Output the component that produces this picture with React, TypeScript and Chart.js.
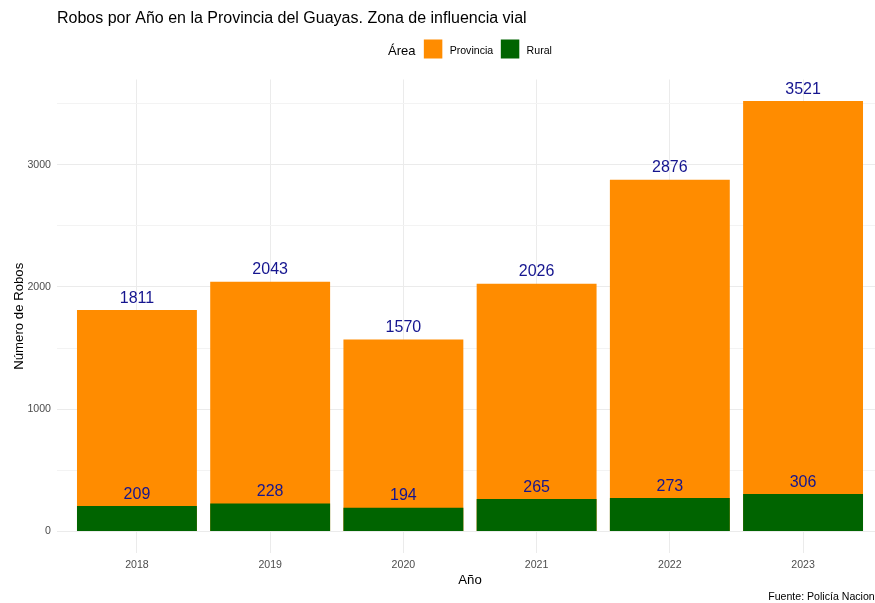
import React, { useEffect, useRef } from 'react';
import { Chart, registerables } from 'chart.js';

Chart.register(...registerables);

const years = ['2018', '2019', '2020', '2021', '2022', '2023'];
const provincia = [1811, 2043, 1570, 2026, 2876, 3521];
const rural = [209, 228, 194, 265, 273, 306];
const yTickValues = [0, 500, 1000, 1500, 2000, 2500, 3000, 3500];
const yLabelled = [0, 1000, 2000, 3000];
const seriesNames = ['Provincia', 'Rural'];
const seriesColors = ['#FF8C00', '#006400'];
const titleText = 'Robos por Año en la Provincia del Guayas. Zona de influencia vial';
const xTitle = 'Año';
const yTitle = 'Número de Robos';
const legendTitle = 'Área';
const captionText = 'Fuente: Policía Nacional';

const FONT = '"Liberation Sans", Arial, Helvetica, sans-serif';
const LABEL_COLOR = '#15158F';

const decorPlugin = {
  id: 'decor',
  afterDatasetsDraw(chart: any) {
    const ctx = chart.ctx;
    ctx.save();
    ctx.font = `16px ${FONT}`;
    ctx.fillStyle = LABEL_COLOR;
    ctx.textAlign = 'center';
    ctx.textBaseline = 'middle';
    const sets = [provincia, rural];
    chart.data.datasets.forEach((ds: any, di: number) => {
      const meta = chart.getDatasetMeta(di);
      meta.data.forEach((el: any, i: number) => {
        ctx.fillText(String(sets[di][i]), el.x, el.y - 11.8);
      });
    });
    ctx.restore();
  },
  afterDraw(chart: any) {
    const ctx = chart.ctx;
    const { left, right, top, bottom } = chart.chartArea;
    const cx = (left + right) / 2;
    ctx.save();
    // title
    ctx.fillStyle = '#000000';
    ctx.textAlign = 'left';
    ctx.textBaseline = 'alphabetic';
    ctx.font = `16px ${FONT}`;
    ctx.fillText(titleText, left, 23);

    // legend
    const titleFont = `13px ${FONT}`;
    const itemFont = `10.6px ${FONT}`;
    ctx.font = titleFont;
    const wTitle = ctx.measureText(legendTitle).width;
    ctx.font = itemFont;
    const wItems = seriesNames.map((n) => ctx.measureText(n).width);
    const box = 18.5;
    const gapTitle = 8.3;
    const gapText = 7.3;
    const gapItem = 7.6;
    let total = wTitle + gapTitle;
    wItems.forEach((w, i) => {
      total += box + gapText + w;
      if (i < wItems.length - 1) total += gapItem;
    });
    let x = cx - total / 2;
    const ly = 51;
    ctx.textBaseline = 'middle';
    ctx.font = titleFont;
    ctx.fillText(legendTitle, x, ly);
    x += wTitle + gapTitle;
    seriesNames.forEach((n, i) => {
      ctx.fillStyle = seriesColors[i];
      ctx.fillRect(x, 39.5, box, 19);
      x += box + gapText;
      ctx.fillStyle = '#000000';
      ctx.font = itemFont;
      ctx.fillText(n, x, ly);
      x += wItems[i] + gapItem;
    });

    // axis titles
    ctx.font = `13.2px ${FONT}`;
    ctx.textAlign = 'center';
    ctx.textBaseline = 'middle';
    ctx.fillStyle = '#000000';
    ctx.fillText(xTitle, cx, 580);
    ctx.save();
    ctx.translate(19, (top + bottom) / 2);
    ctx.rotate(-Math.PI / 2);
    ctx.fillText(yTitle, 0, 0);
    ctx.restore();

    // caption
    ctx.font = `10.6px ${FONT}`;
    ctx.textAlign = 'right';
    ctx.textBaseline = 'middle';
    ctx.fillText(captionText, right, 597);
    ctx.restore();
  },
};

export default function App() {
  const canvasRef = useRef<HTMLCanvasElement | null>(null);

  useEffect(() => {
    document.body.style.margin = '0';
    const canvas = canvasRef.current;
    if (!canvas) return;
    const chart = new Chart(canvas, {
      type: 'bar',
      data: {
        datasets: [
          {
            label: seriesNames[0],
            data: provincia.map((v, i) => ({ x: i + 1, y: v })),
            backgroundColor: seriesColors[0],
            borderWidth: 0,
            grouped: false,
            order: 2,
            categoryPercentage: 0.9,
            barPercentage: 1,
          } as any,
          {
            label: seriesNames[1],
            data: rural.map((v, i) => ({ x: i + 1, y: v })),
            backgroundColor: seriesColors[1],
            borderWidth: 0,
            grouped: false,
            order: 1,
            categoryPercentage: 0.9,
            barPercentage: 1,
          } as any,
        ],
      },
      options: {
        responsive: false,
        animation: false,
        devicePixelRatio: 1,
        layout: { padding: { top: 79.5, right: 7, left: 0, bottom: 0 } },
        plugins: {
          legend: { display: false },
          title: { display: false },
          tooltip: { enabled: false },
        },
        scales: {
          x: {
            type: 'linear',
            min: 0.4,
            max: 6.6,
            offset: false,
            afterBuildTicks: (scale: any) => {
              scale.ticks = years.map((_, i) => ({ value: i + 1 }));
            },
            afterFit: (scale: any) => {
              scale.height = 50;
            },
            ticks: {
              callback: (v: any) => years[Math.round(Number(v)) - 1] ?? '',
              color: '#4D4D4D',
              font: { family: FONT, size: 10.6 },
              padding: 6,
              maxRotation: 0,
              autoSkip: false,
            },
            grid: { color: '#EBEBEB', lineWidth: 1, drawTicks: false, offset: false },
            border: { display: false },
          },
          y: {
            type: 'linear',
            min: -176,
            max: 3697,
            afterBuildTicks: (scale: any) => {
              scale.ticks = yTickValues.map((v) => ({ value: v }));
            },
            afterFit: (scale: any) => {
              scale.width = 57;
            },
            ticks: {
              callback: (v: any) => (yLabelled.includes(Number(v)) ? String(v) : ''),
              color: '#4D4D4D',
              font: { family: FONT, size: 10.6 },
              padding: 6,
              autoSkip: false,
            },
            grid: {
              color: (c: any) => (yLabelled.includes(c.tick?.value) ? '#EBEBEB' : '#F3F3F3'),
              lineWidth: 1,
              drawTicks: false,
            },
            border: { display: false },
          },
        },
      } as any,
      plugins: [decorPlugin],
    });
    return () => chart.destroy();
  }, []);

  return (
    <div style={{ width: 875, height: 603, overflow: 'hidden', background: '#FFFFFF' }}>
      <canvas ref={canvasRef} width={890} height={603} style={{ display: 'block' }} />
    </div>
  );
}
